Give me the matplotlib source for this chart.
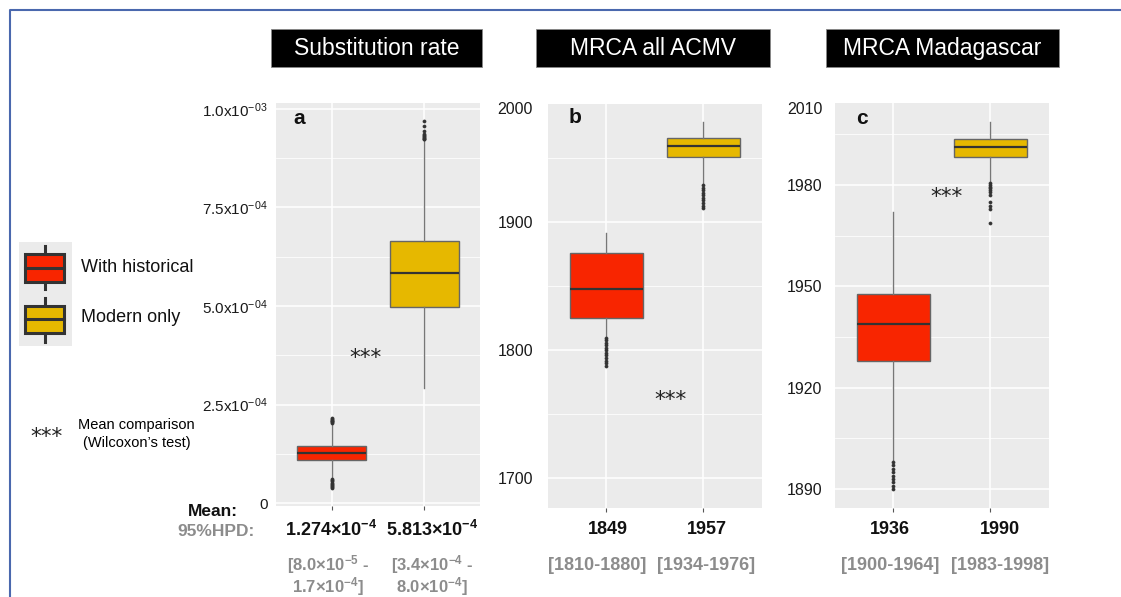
import matplotlib
matplotlib.use("Agg")
import matplotlib.pyplot as plt
from matplotlib.patches import Rectangle
from matplotlib.lines import Line2D
from matplotlib.ticker import MultipleLocator

plt.rcParams['font.family'] = ['Liberation Sans', 'DejaVu Sans']
plt.rcParams['mathtext.fontset'] = 'custom'
plt.rcParams['mathtext.rm'] = 'Liberation Sans'
plt.rcParams['mathtext.it'] = 'Liberation Sans:italic'
plt.rcParams['mathtext.bf'] = 'Liberation Sans:bold'
plt.rcParams['mathtext.fallback'] = 'stixsans'

# ---------------- data ----------------
groups = ['With historical', 'Modern only']
group_colors = ['#F82500', '#E6B800']

panel_titles = ['Substitution rate', 'MRCA all ACMV', 'MRCA Madagascar']
panel_tags = ['a', 'b', 'c']

# box stats: whislo, q1, median, q3, whishi
rate_hist = [0.635e-4, 1.09e-4, 1.277e-4, 1.447e-4, 2.0e-4]
rate_hist_fliers = [0.38e-4, 0.40e-4, 0.43e-4, 0.46e-4, 0.49e-4, 0.52e-4, 0.55e-4,
                    0.58e-4, 0.61e-4, 2.03e-4, 2.05e-4, 2.07e-4, 2.09e-4, 2.11e-4,
                    2.13e-4, 2.15e-4]
rate_modern = [0.291e-3, 0.4967e-3, 0.583e-3, 0.6657e-3, 0.921e-3]
rate_modern_fliers = [0.923e-3, 0.925e-3, 0.927e-3, 0.929e-3, 0.931e-3, 0.934e-3,
                      0.937e-3, 0.943e-3, 0.958e-3, 0.970e-3]

acmv_hist = [1811, 1825.1, 1848.2, 1875.7, 1891.7]
acmv_hist_fliers = [1788, 1790, 1792, 1794, 1796, 1798, 1800, 1802, 1804, 1806,
                    1808, 1810]
acmv_modern = [1930.1, 1951.1, 1959.4, 1965.6, 1978]
acmv_modern_fliers = [1911, 1913, 1915, 1917, 1919, 1921, 1923, 1925, 1927, 1929]

mada_hist = [1898.5, 1927.9, 1939.0, 1947.9, 1971.9]
mada_hist_fliers = [1890, 1891, 1892, 1893, 1894, 1895, 1896, 1897, 1898]
mada_modern = [1981, 1988.3, 1991.2, 1993.5, 1998.8]
mada_modern_fliers = [1980.5, 1980, 1979.5, 1979, 1978.5, 1978, 1977.1, 1975.1,
                      1973.8, 1972.8, 1968.9]

# y tick labels
rate_ticks = [0, 2.5e-4, 5.0e-4, 7.5e-4, 1.0e-3]
rate_ticklabels = ['0', '2.5x10$^{\\mathrm{-04}}$', '5.0x10$^{\\mathrm{-04}}$',
                   '7.5x10$^{\\mathrm{-04}}$', '1.0x10$^{\\mathrm{-03}}$']
acmv_ticks = [1700, 1800, 1900]
mada_ticks = [1890, 1920, 1950, 1980]

# significance marker positions (x category, y value)
star_a = (1.37, 0.368e-3)
star_b = (1.667, 1761.6)
star_c = (1.543, 1976.6)

# summary text below panels
mean_labels = ['1.274×10$^{\\mathbf{-4}}$', '5.813×10$^{\\mathbf{-4}}$',
               '1849', '1957', '1936', '1990']
hpd_labels_rate = ['[8.0×10$^{\\mathbf{-5}}$ -\n1.7×10$^{\\mathbf{-4}}$]',
                   '[3.4×10$^{\\mathbf{-4}}$ -\n8.0×10$^{\\mathbf{-4}}$]']
hpd_labels_years = ['[1810-1880]', '[1934-1976]', '[1900-1964]', '[1983-1998]']

# ---------------- layout helpers ----------------
W, H = 1121, 597
fig = plt.figure(figsize=(W / 100, H / 100), dpi=100)


def fx(x):
    return x / W


def fy(y):
    return 1 - y / H


def add_ax(x0, y0, x1, y1):
    return fig.add_axes([fx(x0), fy(y1), (x1 - x0) / W, (y1 - y0) / H])


def stats(s, fl):
    lo, q1, med, q3, hi = s
    return dict(whislo=lo, q1=q1, med=med, q3=q3, whishi=hi, fliers=fl)


def draw_panel(ax, data, ylim, ticks, ticklabels, major, minor, pad, lsize):
    ax.set_facecolor('#EBEBEB')
    bp = ax.bxp(data, positions=[1, 2], widths=0.75, patch_artist=True,
                showcaps=False,
                boxprops=dict(edgecolor='#666666', linewidth=1),
                medianprops=dict(color='#333333', linewidth=1.6),
                whiskerprops=dict(color='#777777', linewidth=1),
                flierprops=dict(marker='o', markersize=2.2, markerfacecolor='#333333',
                                markeredgecolor='#333333', markeredgewidth=0.5,
                                linestyle='none'))
    for patch, c in zip(bp['boxes'], group_colors):
        patch.set_facecolor(c)
    ax.set_xlim(0.4, 2.6)
    ax.set_ylim(*ylim)
    ax.set_xticks([1, 2])
    ax.set_xticklabels([])
    ax.yaxis.set_major_locator(MultipleLocator(major))
    ax.yaxis.set_minor_locator(MultipleLocator(minor))
    ax.set_yticks(ticks)
    ax.set_yticklabels(ticklabels)
    ax.grid(True, which='major', color='white', linewidth=1.1)
    ax.grid(True, which='minor', axis='y', color='white', linewidth=0.55)
    ax.set_axisbelow(True)
    ax.tick_params(axis='x', length=3, width=0.8, color='#555555')
    ax.tick_params(axis='y', which='both', length=0, pad=pad, labelsize=lsize,
                   labelcolor='#1a1a1a')
    for s in ax.spines.values():
        s.set_visible(False)


ax_a = add_ax(276, 103, 480, 506)
draw_panel(ax_a, [stats(rate_hist, rate_hist_fliers), stats(rate_modern, rate_modern_fliers)],
           (-7.6e-6, 1.0152e-3), rate_ticks, rate_ticklabels, 2.5e-4, 1.25e-4, 5.8, 11)

ax_b = add_ax(547.7, 104, 761.7, 508)
draw_panel(ax_b, [stats(acmv_hist, acmv_hist_fliers), stats(acmv_modern, acmv_modern_fliers)],
           (1676.9, 1992.3), acmv_ticks, [str(t) for t in acmv_ticks], 100, 50, 10.6, 11.5)

ax_c = add_ax(835, 103.3, 1048.7, 507.7)
draw_panel(ax_c, [stats(mada_hist, mada_hist_fliers), stats(mada_modern, mada_modern_fliers)],
           (1884.5, 2004.2), mada_ticks, [str(t) for t in mada_ticks], 30, 15, 9.1, 11.5)

# top tick labels that sit above the last gridline in the original
fig.text(fx(533), fy(109.3), '2000', ha='right', va='center', fontsize=11.5, color='#1a1a1a')
fig.text(fx(822.3), fy(109.3), '2010', ha='right', va='center', fontsize=11.5, color='#1a1a1a')

# significance stars
for ax, (sx, sy) in zip([ax_a, ax_b, ax_c], [star_a, star_b, star_c]):
    ax.text(sx, sy, '***', ha='center', va='center', fontsize=15.5,
            family='DejaVu Sans', color='#222222')

# panel tags
for tag, (tx, ty) in zip(panel_tags, [(299, 118), (575, 117.7), (862.3, 119)]):
    fig.text(fx(tx), fy(ty), tag, ha='center', va='center', fontsize=15,
             fontweight='bold', color='#111111')

# title boxes
for title, (x0, x1) in zip(panel_titles, [(270.7, 482.3), (536, 769.5), (825.6, 1059)]):
    fig.patches.append(Rectangle((fx(x0), fy(67)), (x1 - x0) / W, 38 / H,
                                 transform=fig.transFigure, facecolor='black',
                                 edgecolor='#888888', linewidth=0.6))
    fig.text(fx((x0 + x1) / 2), fy(48.5), title, ha='center', va='center',
             fontsize=16.5, color='white')

# legend
fig.patches.append(Rectangle((fx(19), fy(346)), 53 / W, 104.3 / H,
                             transform=fig.transFigure, facecolor='#EBEBEB',
                             edgecolor='none', zorder=0))
for c, (yt, yb, wt, wb) in zip(group_colors, [(254, 281.7, 245.7, 289.3),
                                               (306, 332.7, 298, 341.7)]):
    xm = 44.5
    fig.lines.append(Line2D([fx(xm), fx(xm)], [fy(wt), fy(wb)], transform=fig.transFigure,
                            color='#333333', linewidth=2.2, zorder=0.5))
    fig.patches.append(Rectangle((fx(25), fy(yb)), 39 / W, (yb - yt) / H,
                                 transform=fig.transFigure, facecolor=c,
                                 edgecolor='#333333', linewidth=2.2, zorder=1))
    fig.lines.append(Line2D([fx(25), fx(64)], [fy((yt + yb) / 2)] * 2,
                            transform=fig.transFigure, color='#333333', linewidth=2.2,
                            zorder=2))
for label, ly in zip(groups, [268, 318]):
    fig.text(fx(80.7), fy(ly), label, ha='left', va='center', fontsize=13, color='#111111')

fig.text(fx(46.7), fy(437), '***', ha='center', va='center', fontsize=15.5,
         family='DejaVu Sans', color='#222222')
fig.text(fx(136.7), fy(425), 'Mean comparison', ha='center', va='center', fontsize=10.5)
fig.text(fx(136.7), fy(442.5), '(Wilcoxon’s test)', ha='center', va='center', fontsize=10.5)

# summary text
grey = '#8C8C8C'
fig.text(fx(213.3), fy(511), 'Mean:', ha='center', va='center', fontsize=12.5,
         fontweight='bold', color='#111111')
fig.text(fx(215.7), fy(531.7), '95%HPD:', ha='center', va='center', fontsize=12.5,
         fontweight='bold', color=grey)

mean_x = [331, 431.7, 608, 706.7, 890, 1000]
for label, mx in zip(mean_labels, mean_x):
    fig.text(fx(mx), fy(530), label, ha='center', va='center', fontsize=13,
             fontweight='bold', color='#111111')

for label, hx in zip(hpd_labels_rate, [328, 432]):
    fig.text(fx(hx), fy(576), label, ha='center', va='center', fontsize=12,
             fontweight='bold', color=grey, linespacing=0.95, multialignment='center')

for label, hx in zip(hpd_labels_years, [597, 706, 890.5, 1000]):
    fig.text(fx(hx), fy(566), label, ha='center', va='center', fontsize=13,
             fontweight='bold', color=grey)

# blue frame (left and top edges visible)
fig.lines.append(Line2D([fx(10), fx(10), 1.0], [0.0, fy(10), fy(10)],
                        transform=fig.transFigure, color='#4A68AE', linewidth=1.5))

fig.savefig('out.png', dpi=100)
